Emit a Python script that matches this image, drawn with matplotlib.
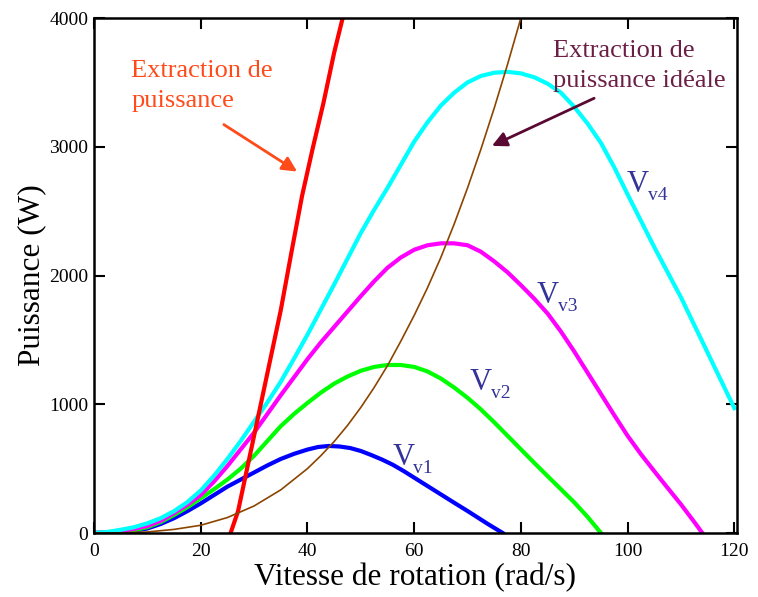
import matplotlib
matplotlib.use('Agg')
import matplotlib.pyplot as plt
from matplotlib.transforms import offset_copy

# curve data (speed rad/s, power W)
w_v1 = [0, 5, 7.5, 10, 12.5, 15, 17.5, 20, 22.5, 25, 27.5, 30, 32.5, 35, 37.5, 40, 42, 44, 46, 48,
        50, 52, 54, 56, 58, 60, 62.5, 65, 67.5, 70, 72, 74, 76.6]
p_v1 = [0, 8, 18, 35, 70, 115, 170, 230, 295, 360, 415, 470, 525, 575, 615, 648, 668, 676, 672, 660,
        637, 605, 570, 530, 482, 430, 365, 300, 235, 171, 118, 65, 0]

w_v2 = [0, 5, 7.5, 10, 12.5, 15, 17.5, 20, 22.5, 25, 27.5, 30, 32.5, 35, 37.5, 40, 42.5, 45, 47.5, 50,
        52.5, 55, 57.5, 60, 62.5, 65, 67.5, 70, 72.5, 75, 77.5, 80, 82.5, 85, 87.5, 90, 92.5, 95]
p_v2 = [0, 10, 22, 45, 85, 140, 200, 270, 340, 415, 500, 600, 715, 830, 925, 1010, 1090, 1160, 1215, 1260,
        1290, 1305, 1305, 1290, 1255, 1200, 1130, 1050, 960, 860, 755, 650, 545, 442, 340, 238, 125, 0]

w_v3 = [0, 2.5, 5, 7.5, 10, 12.5, 15, 17.5, 20, 22.5, 25, 27.5, 30, 32.5, 35, 37.5, 40, 42.5, 45, 47.5,
        50, 52.5, 55, 57.5, 60, 62.5, 65, 67.5, 70, 72.5, 75, 77.5, 80, 82.5, 85, 87.5, 90, 92.5, 95,
        97.5, 100, 102.5, 105, 107.5, 110, 112.5, 114]
p_v3 = [0, 5, 15, 32, 55, 95, 155, 220, 295, 400, 520, 650, 780, 925, 1070, 1210, 1350, 1480, 1600, 1720,
        1840, 1955, 2060, 2140, 2200, 2235, 2250, 2250, 2235, 2185, 2110, 2025, 1925, 1820, 1705, 1565, 1410, 1245, 1080,
        915, 755, 612, 480, 350, 222, 85, 0]

w_v4 = [0, 2.5, 5, 7.5, 10, 12.5, 15, 17.5, 20, 22.5, 25, 27.5, 30, 32.5, 35, 37.5, 40, 42.5, 45, 47.5,
        50, 52.5, 55, 57.5, 60, 62.5, 65, 67.5, 70, 72.5, 75, 77.5, 80, 82.5, 85, 87.5, 90, 92.5, 95,
        97.5, 100, 102.5, 105, 107.5, 110, 112.5, 115, 117.5, 120]
p_v4 = [0, 8, 25, 45, 75, 115, 170, 240, 330, 445, 575, 715, 865, 1015, 1175, 1355, 1540, 1735, 1930, 2130,
        2330, 2510, 2680, 2860, 3040, 3190, 3320, 3420, 3500, 3550, 3575, 3582, 3570, 3540, 3490, 3420, 3310, 3180, 3030,
        2840, 2630, 2425, 2220, 2025, 1830, 1615, 1400, 1185, 970]

w_ext = [25.6, 27, 29, 31, 33, 35, 37, 39, 41, 43, 45, 46.6]
p_ext = [0, 170, 560, 950, 1340, 1730, 2180, 2620, 2990, 3340, 3730, 4000]

w_opt = [0, 5, 10, 15, 20, 25, 30, 35, 40, 42.5, 45, 47.5, 50, 52.5, 55, 57.5, 60, 62.5, 65, 67.5,
         70, 72.5, 75, 77.5, 80]
p_opt = [0, 1, 8, 28, 60, 120, 210, 335, 500, 600, 710, 835, 975, 1130, 1300, 1490, 1690, 1905, 2140, 2400,
         2680, 2980, 3300, 3640, 4000]

x_ticks = [0, 20, 40, 60, 80, 100, 120]
y_ticks = [0, 1000, 2000, 3000, 4000]

plt.rcParams['font.family'] = 'Liberation Serif'

fig = plt.figure(figsize=(7.58, 5.97), dpi=100)
ax = fig.add_axes([0.124, 0.1072, 0.8483, 0.8626])

ax.plot(w_v1, p_v1, color='#0000FF', lw=3)
ax.plot(w_v2, p_v2, color='#00FF00', lw=3)
ax.plot(w_v3, p_v3, color='#FF00FF', lw=3)
ax.plot(w_v4, p_v4, color='#00FFFF', lw=3)
ax.plot(w_ext, p_ext, color='#FF0000', lw=3)
ax.plot(w_opt, p_opt, color='#8B4500', lw=1.2)

ax.set_xlim(0, 120.5)
ax.set_ylim(0, 4000)
ax.set_xticks(x_ticks)
ax.set_yticks(y_ticks)
ax.tick_params(axis='both', which='both', direction='in', length=8, width=1.5,
               top=True, right=True, labelsize=14)
ax.tick_params(axis='x', pad=7)
ax.tick_params(axis='y', pad=4)
for s in ax.spines.values():
    s.set_linewidth(1.8)

ax.set_xlabel('Vitesse de rotation (rad/s)', fontsize=22.5, labelpad=2)
ax.set_ylabel('Puissance (W)', fontsize=22.5, labelpad=2)

# annotations, one text per line
orange = '#FF4A1A'
ax.text(7.0, 3542, 'Extraction de', color=orange, fontsize=19, va='baseline', ha='left')
ax.text(7.0, 3309, 'puissance', color=orange, fontsize=19, va='baseline', ha='left')
ax.annotate('', xy=(38.5, 2796), xytext=(23.9, 3184),
            arrowprops=dict(arrowstyle='-|>', color=orange, lw=2, mutation_scale=22))

maroon = '#6B1F45'
ax.text(86.0, 3697, 'Extraction de', color=maroon, fontsize=19, va='baseline', ha='left')
ax.text(86.0, 3464, 'puissance idéale', color=maroon, fontsize=19, va='baseline', ha='left')
ax.annotate('', xy=(74.1, 2998), xytext=(94.2, 3386),
            arrowprops=dict(arrowstyle='-|>', color='#5A0A32', lw=2, mutation_scale=22))

# speed labels V_v1..V_v4
lab_x = [55.9, 70.4, 83.0, 99.8]
lab_y = [528, 1111, 1786, 2648]
lab_sub = ['v1', 'v2', 'v3', 'v4']
sub_tr = offset_copy(ax.transData, fig=fig, x=21, y=-8, units='dots')
for lx, ly, sb in zip(lab_x, lab_y, lab_sub):
    ax.text(lx, ly, 'V', color='#333399', fontsize=22, va='baseline', ha='left')
    ax.text(lx, ly, sb, color='#333399', fontsize=14, va='baseline', ha='left',
            transform=sub_tr)

fig.savefig('out.png', dpi=100)
